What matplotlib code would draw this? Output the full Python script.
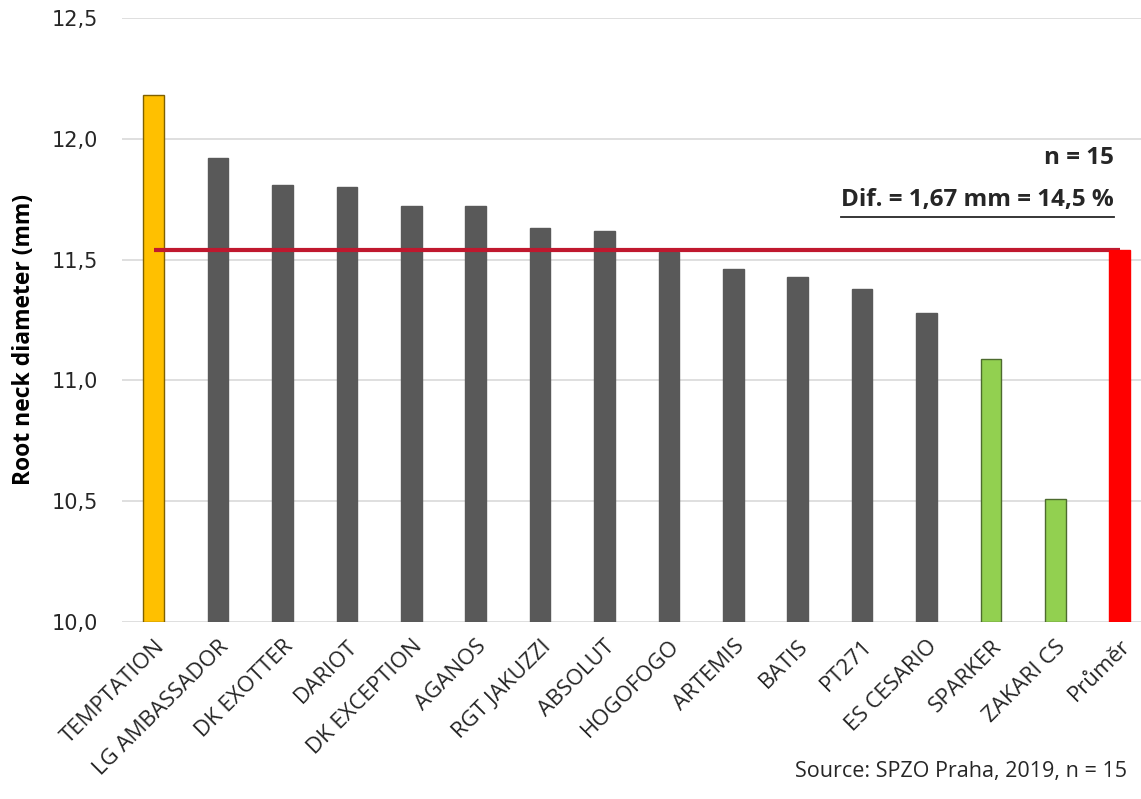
import matplotlib
matplotlib.use("Agg")
import matplotlib.pyplot as plt
from matplotlib.lines import Line2D

plt.rcParams['font.family'] = ['Open Sans', 'DejaVu Sans']

odrudy = ["TEMPTATION", "LG AMBASSADOR", "DK EXOTTER", "DARIOT", "DK EXCEPTION",
          "AGANOS", "RGT JAKUZZI", "ABSOLUT", "HOGOFOGO", "ARTEMIS", "BATIS",
          "PT271", "ES CESARIO", "SPARKER", "ZAKARI CS", "Průměr"]
prumer_krcku = [12.18, 11.92, 11.81, 11.80, 11.72, 11.72, 11.63, 11.62, 11.53,
                11.46, 11.43, 11.38, 11.28, 11.09, 10.51, 11.54]
barvy = ["#FFC000"] + ["#595959"] * 12 + ["#92D050", "#92D050", "#FF0000"]
okraje = ["#7F6000"] + ["#595959"] * 12 + ["#4D6B2E", "#4D6B2E", "#FF0000"]
prumer = 11.54
y_ticks = [10.0, 10.5, 11.0, 11.5, 12.0, 12.5]

W, H = 1141, 799
fig = plt.figure(figsize=(W / 100, H / 100), dpi=100)
# axes slightly wider than the picture (right side is cut off in the original)
ax = fig.add_axes([121.5 / W, (H - 622) / H, (1152 - 121.5) / W, (622 - 18) / H])

x = list(range(len(odrudy)))
ax.bar(x, [v - 10 for v in prumer_krcku], bottom=10, width=0.32,
       color=barvy, edgecolor=okraje, linewidth=1, zorder=3)
ax.hlines(prumer, 0, 15, color="#C0182E", linewidth=3, zorder=4)
# redraw the average bar above the line
ax.bar([15], [prumer_krcku[15] - 10], bottom=10, width=0.32, color="#FF0000", zorder=5)

ax.set_xlim(-0.5, 15.5)
ax.set_ylim(10, 12.5)
ax.set_yticks(y_ticks)
ax.set_yticklabels([f"{t:.1f}".replace(".", ",") for t in y_ticks], fontsize=15,
                   color="#262626", family="DejaVu Sans")
ax.set_xticks(x)
ax.set_xticklabels(odrudy, rotation=45, ha="right", rotation_mode="anchor",
                   fontsize=16, color="#262626")
ax.tick_params(axis="both", length=0)
ax.tick_params(axis="y", pad=17)
ax.tick_params(axis="x", pad=10)
ax.grid(axis="y", color="#D9D9D9", linewidth=1.2, zorder=0)
for s in ax.spines.values():
    s.set_visible(False)

ax.set_ylabel("Root neck diameter (mm)", fontsize=16.5, fontweight="bold")
ax.yaxis.set_label_coords(-0.083, 0.467)

fig.text(1114 / W, (H - 158) / H, "n = 15", ha="right", va="center",
         fontsize=17.5, fontweight="bold", color="#262626")
t = fig.text(1114 / W, (H - 200) / H, "Dif. = 1,67 mm = 14,5 %", ha="right", va="center",
             fontsize=17.5, fontweight="bold", color="#262626")
fig.canvas.draw()
bb = t.get_window_extent()
fig.add_artist(Line2D([bb.x0 / W, bb.x1 / W], [(H - 217) / H] * 2,
                      color="#262626", linewidth=1.3))

fig.text(795 / W, (H - 772) / H, "Source: SPZO Praha, 2019, n = 15", ha="left", va="center",
         fontsize=15.5, color="#262626")

fig.savefig("out.png", dpi=100)
